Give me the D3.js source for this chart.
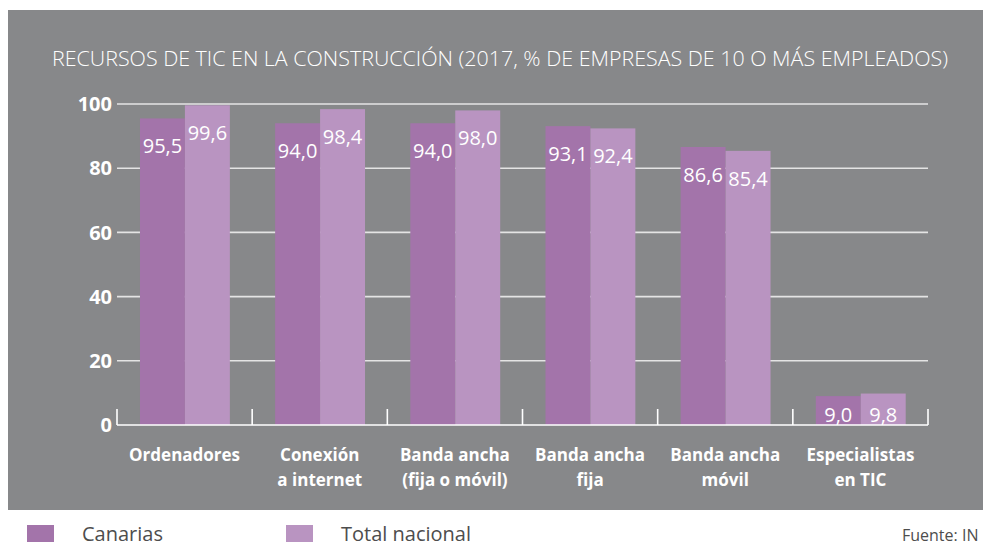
<!DOCTYPE html>
<html>
<head>
<meta charset="utf-8">
<script src="https://cdn.jsdelivr.net/npm/d3@7"></script>
<style>
  html, body { margin: 0; padding: 0; background: #ffffff; }
  svg { display: block; }
</style>
</head>
<body>
<svg id="chart" width="983" height="546"></svg>
<script>
// Categories (two-line labels) and series values
const categories = [
  ["Ordenadores"],
  ["Conexión", "a internet"],
  ["Banda ancha", "(fija o móvil)"],
  ["Banda ancha", "fija"],
  ["Banda ancha", "móvil"],
  ["Especialistas", "en TIC"]
];
const seriesNames = ["Canarias", "Total nacional"];
const canarias = [95.5, 94.0, 94.0, 93.1, 86.6, 9.0];
const totalNacional = [99.6, 98.4, 98.0, 92.4, 85.4, 9.8];
const yTicks = [0, 20, 40, 60, 80, 100];
const title = "RECURSOS DE TIC EN LA CONSTRUCCIÓN (2017, % DE EMPRESAS DE 10 O MÁS EMPLEADOS)";
const source = "Fuente: IN";

const colors = ["#a374aa", "#b994c1"];
const series = [canarias, totalNacional];

const svg = d3.select("#chart");
const font = "'Open Sans', 'DejaVu Sans', sans-serif";

// Gray panel
svg.append("rect")
  .attr("x", 8).attr("y", 10)
  .attr("width", 975).attr("height", 500)
  .attr("fill", "#87888a");

// Title
svg.append("text")
  .attr("x", 52).attr("y", 66)
  .attr("font-family", font)
  .attr("font-weight", 300)
  .attr("font-size", 20)
  .attr("fill", "#ffffff")
  .attr("textLength", 896)
  .attr("lengthAdjust", "spacingAndGlyphs")
  .text(title);

// Scales
const catKeys = categories.map((c, i) => i);
const x0 = d3.scaleBand().domain(catKeys).range([117, 928]).padding(0);
const x1 = d3.scaleBand().domain([0, 1])
  .range([x0.bandwidth() * 0.17, x0.bandwidth() * 0.835]).padding(0);
const y = d3.scaleLinear().domain([0, 100]).range([425, 104]);

// Gridlines
svg.append("g")
  .selectAll("line")
  .data(yTicks.filter(t => t > 0))
  .join("line")
  .attr("x1", 117).attr("x2", 928)
  .attr("y1", d => y(d)).attr("y2", d => y(d))
  .attr("stroke", "#e4e4e4")
  .attr("stroke-width", 1.6);

// Y-axis labels
svg.append("g")
  .selectAll("text")
  .data(yTicks)
  .join("text")
  .attr("x", 112)
  .attr("y", d => y(d))
  .attr("dy", "0.36em")
  .attr("text-anchor", "end")
  .attr("font-family", font)
  .attr("font-weight", 700)
  .attr("font-size", 20)
  .attr("fill", "#ffffff")
  .text(d => d);

// Bars
const groups = svg.append("g")
  .selectAll("g")
  .data(catKeys)
  .join("g")
  .attr("transform", i => `translate(${x0(i)},0)`);

groups.selectAll("rect")
  .data(i => series.map((s, k) => ({ k, v: s[i] })))
  .join("rect")
  .attr("x", d => x1(d.k))
  .attr("width", x1.bandwidth())
  .attr("y", d => y(d.v))
  .attr("height", d => y(0) - y(d.v))
  .attr("fill", d => colors[d.k]);

// Value labels inside bars
groups.selectAll("text.val")
  .data(i => series.map((s, k) => ({ k, v: s[i] })))
  .join("text")
  .attr("class", "val")
  .attr("x", d => x1(d.k) + x1.bandwidth() / 2)
  .attr("y", d => Math.min(y(d.v) + 35, y(0) - 3))
  .attr("text-anchor", "middle")
  .attr("font-family", font)
  .attr("font-size", 20)
  .attr("fill", "#ffffff")
  .text(d => d3.format(".1f")(d.v).replace(".", ","));

// X axis baseline and boundary ticks
const axis = d3.axisBottom(x0).tickSize(0).tickFormat("");
const axisG = svg.append("g").attr("transform", `translate(0,${y(0)})`).call(axis);
axisG.select(".domain").attr("stroke", "#ffffff").attr("stroke-width", 1.6)
  .attr("d", "M117,0H928");
axisG.selectAll(".tick").remove();

const bounds = catKeys.map(i => x0(i)).concat([x0(catKeys.length - 1) + x0.bandwidth()]);
svg.append("g")
  .selectAll("line")
  .data(bounds)
  .join("line")
  .attr("x1", d => d).attr("x2", d => d)
  .attr("y1", y(0) - 16).attr("y2", y(0))
  .attr("stroke", "#ffffff")
  .attr("stroke-width", 1.6);

// Category labels
const catLabels = svg.append("g")
  .selectAll("text")
  .data(catKeys)
  .join("text")
  .attr("x", i => x0(i) + x0.bandwidth() / 2)
  .attr("y", 461)
  .attr("text-anchor", "middle")
  .attr("font-family", font)
  .attr("font-weight", 700)
  .attr("font-size", 17)
  .attr("fill", "#ffffff");
catLabels.selectAll("tspan")
  .data(i => categories[i].map(line => ({ line, cx: x0(i) + x0.bandwidth() / 2 })))
  .join("tspan")
  .attr("x", d => d.cx)
  .attr("dy", (d, j) => j === 0 ? 0 : 25)
  .text(d => d.line);

// Legend
const legendX = [27, 286];
const legend = svg.append("g")
  .selectAll("g")
  .data(seriesNames)
  .join("g")
  .attr("transform", (d, i) => `translate(${legendX[i]},525)`);
legend.append("rect")
  .attr("width", 27).attr("height", 17)
  .attr("fill", (d, i) => colors[i]);
legend.append("text")
  .attr("x", 55).attr("y", 16)
  .attr("font-family", font)
  .attr("font-size", 20)
  .attr("fill", "#4d4d4d")
  .text(d => d);

// Source note
svg.append("text")
  .attr("x", 902).attr("y", 541)
  .attr("font-family", font)
  .attr("font-size", 16)
  .attr("fill", "#4d4d4d")
  .text(source);
</script>
</body>
</html>
